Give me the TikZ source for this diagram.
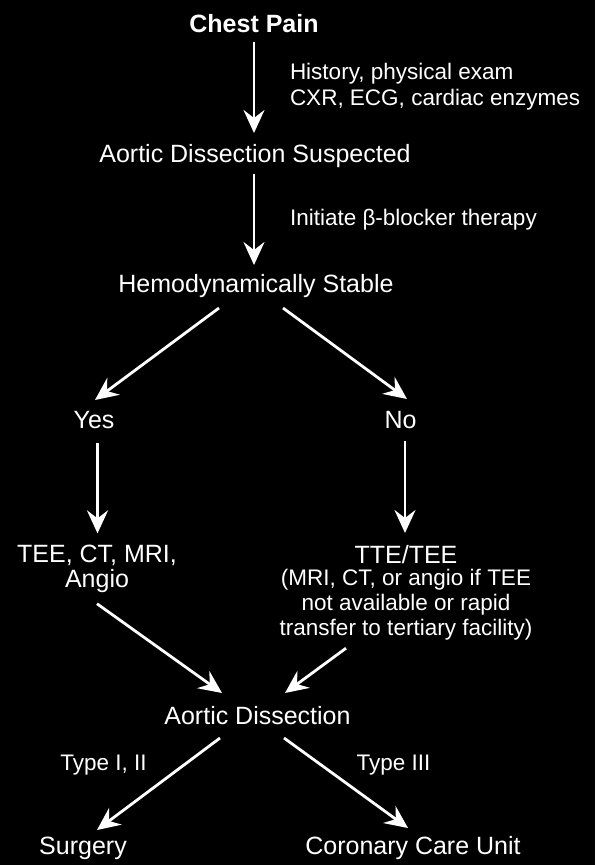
\documentclass[tikz,border=0pt]{standalone}
\usepackage{fontspec}
\setmainfont{Liberation Sans}
\usetikzlibrary{arrows.meta}
\begin{document}
\begin{tikzpicture}[x=1pt,y=-1pt,
  every node/.style={text=white, inner sep=0pt, outer sep=0pt},
  main/.style={font=\fontsize{25}{25}\selectfont, text height=18pt, text depth=5pt, anchor=base},
  multi/.style={align=center, font=\fontsize{25}{25}\selectfont},
  lab/.style={font=\fontsize{22.5}{25}\selectfont},
  arr/.style={draw=white, line width=2.8pt, -{Stealth[length=23pt,width=21pt,inset=8pt]}}
]
\fill[black] (0,0) rectangle (595,865);
% nodes
\node[main, font=\bfseries\fontsize{25}{25}\selectfont] (chest) at (254,32) {Chest Pain};
\node[main] (ads) at (255,162) {Aortic Dissection Suspected};
\node[main] (hs) at (256,292) {Hemodynamically Stable};
\node[main] (yes) at (94,428) {Yes};
\node[main] (no) at (400.5,428) {No};
\node[multi] (tee) at (97,569.2) {TEE, CT, MRI,\\Angio};
\node[main] (tte) at (406,563) {TTE/TEE};
\node[lab, align=center] (note) at (406,604.7) {(MRI, CT, or angio if TEE\\not available or rapid\\transfer to tertiary facility)};
\node[main] (ad) at (257.5,724) {Aortic Dissection};
\node[main] (surg) at (83,854) {Surgery};
\node[main] (ccu) at (413,854) {Coronary Care Unit};
% labels
\node[lab, align=left, anchor=west, font=\fontsize{22.5}{26}\selectfont] (hist) at (290,87) {History, physical exam\\CXR, ECG, cardiac enzymes};
\node[lab, anchor=base west] (beta) at (290,225) {Initiate β-blocker therapy};
\node[lab, anchor=base] (t12) at (103.5,770) {Type I, II};
\node[lab, anchor=base] (t3) at (393.5,770) {Type III};
% connectors
\draw[arr] ([yshift=-5pt]chest.south) -- ([yshift=11pt]chest.south |- ads.north);
\draw[arr] ([xshift=-1pt,yshift=-7pt]ads.south) -- ([xshift=-1pt,yshift=9pt]ads.south |- hs.north);
\draw[arr] ([xshift=-37pt,yshift=-11pt]hs.south) -- ([xshift=1pt,yshift=10pt]yes.north);
\draw[arr] ([xshift=27pt,yshift=-11pt]hs.south) -- ([xshift=6.5pt,yshift=11pt]no.north);
\draw[arr] ([xshift=3.5pt,yshift=-10pt]yes.south) -- ([xshift=0.5pt,yshift=12pt]tee.north);
\draw[arr] ([xshift=4.5pt,yshift=-8pt]no.south) -- ([xshift=-1pt,yshift=12pt]tte.north);
\draw[arr] ([yshift=-10.7pt]tee.south) -- ([xshift=-35.5pt,yshift=13pt]ad.north);
\draw[arr] ([xshift=-60pt,yshift=-8pt]note.south) -- ([xshift=27.5pt,yshift=13pt]ad.north);
\draw[arr] ([xshift=-37.5pt,yshift=-9pt]ad.south) -- ([xshift=14pt,yshift=6pt]surg.north);
\draw[arr] ([xshift=26.5pt,yshift=-9pt]ad.south) -- ([xshift=-5pt,yshift=8pt]ccu.north);
\end{tikzpicture}
\end{document}
